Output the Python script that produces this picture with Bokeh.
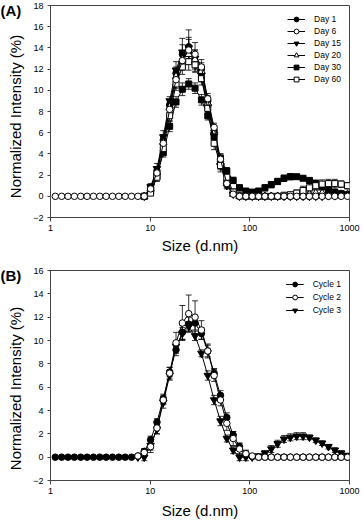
import math
from bokeh.plotting import figure
from bokeh.models import (Range1d, FixedTicker, PrintfTickFormatter, Legend, LegendItem,
                          Whisker, TeeHead, ColumnDataSource, Label)
from bokeh.layouts import column, row
from bokeh.embed import file_html
from bokeh.resources import INLINE

FONT = "Liberation Sans"

# ---------------- data ----------------
sizes = [1.117, 1.294, 1.499, 1.736, 2.010, 2.328, 2.696, 3.122, 3.615, 4.187,
         4.849, 5.615, 6.503, 7.531, 8.721, 10.10, 11.70, 13.54, 15.69, 18.17,
         21.04, 24.36, 28.21, 32.67, 37.84, 43.82, 50.75, 58.77, 68.06, 78.82,
         91.28, 105.7, 122.4, 141.8, 164.2, 190.1, 220.2, 255.0, 295.3, 342.0,
         396.1, 458.7, 531.2, 615.1, 712.4, 825.0, 955.4]

x_ticks = [1, 10, 100, 1000]
y_ticks_a = [-2, 0, 2, 4, 6, 8, 10, 12, 14, 16, 18]
y_ticks_b = [-2, 0, 2, 4, 6, 8, 10, 12, 14, 16]

x_title = "Size (d.nm)"
y_title = "Normalized Intensity (%)"

N = None
# Panel A
day1 = [N, N, N, N, N, N, N, N, N, N, N, N, N, N,
        0.0, 0.8, 2.4, 5.3, 8.6, 11.6, 13.4, 14.1, 12.6, 12.0, 9.0, 6.2, 3.3, 1.4, 0.3,
        0.0, 0.0, 0.0, 0.0, 0.0, 0.0, 0.0, 0.0, 0.0, 0.0, 0.0, 0.0, 0.0, 0.05, 0.05, 0.1, 0.1, 0.1]
day1_err = [0, 0, 0, 0, 0, 0, 0, 0, 0, 0, 0, 0, 0, 0,
            0, 0.3, 0.4, 0.5, 0.5, 0.6, 0.9, 1.6, 0.8, 0.6, 0.5, 0.4, 0.4, 0.3, 0.2,
            0, 0, 0, 0, 0, 0, 0, 0, 0, 0, 0, 0, 0, 0, 0, 0, 0, 0]
day6 = [0.0, 0.0, 0.0, 0.0, 0.0, 0.0, 0.0, 0.0, 0.0, 0.0, 0.0, 0.0, 0.0, 0.0,
        0.0, 0.7, 2.2, 5.0, 8.2, 11.0, 12.8, 13.8, 13.4, 12.2, 9.2, 6.5, 3.5, 1.2, 0.2,
        0.0, 0.0, 0.0, 0.0, 0.0, 0.0, 0.0, 0.0, 0.0, 0.0, 0.0, 0.0, 0.0, 0.0, 0.0, 0.0, 0.0, 0.0]
day6_err = [0, 0, 0, 0, 0, 0, 0, 0, 0, 0, 0, 0, 0, 0,
            0, 0.3, 0.4, 0.5, 0.6, 0.8, 0.9, 1.0, 1.1, 0.7, 0.5, 0.4, 0.5, 0.4, 0.2,
            0, 0, 0, 0, 0, 0, 0, 0, 0, 0, 0, 0, 0, 0, 0, 0, 0, 0]
day15 = [N, N, N, N, N, N, N, N, N, N, N, N, N, N,
         0.0, 0.9, 2.6, 5.6, 9.0, 11.9, 13.6, 14.0, 13.0, 11.4, 8.4, 5.8, 2.9, 1.0, 0.2,
         0.0, 0.0, 0.0, 0.0, 0.0, 0.0, 0.0, 0.0, 0.0, 0.0, 0.0, 0.0, 0.0, 0.0, 0.05, 0.05, 0.1, 0.1]
day15_err = [0, 0, 0, 0, 0, 0, 0, 0, 0, 0, 0, 0, 0, 0,
             0, 0.3, 0.5, 0.6, 0.4, 0.8, 1.3, 1.0, 0.8, 0.6, 0.4, 0.4, 0.4, 0.3, 0.2,
             0, 0, 0, 0, 0, 0, 0, 0, 0, 0, 0, 0, 0, 0, 0, 0, 0, 0]
day20 = [N, N, N, N, N, N, N, N, N, N, N, N, N, N,
         0.0, 0.7, 2.3, 5.1, 8.4, 11.3, 12.9, 13.4, 12.9, 11.8, 8.8, 6.0, 3.2, 1.2, 0.2,
         0.0, 0.0, 0.0, 0.0, 0.0, 0.0, 0.0, 0.0, 0.0, 0.0, 0.1, 0.2, 0.3, 0.3, 0.3, 0.3, 0.2, 0.2]
day20_err = [0, 0, 0, 0, 0, 0, 0, 0, 0, 0, 0, 0, 0, 0,
             0, 0.3, 0.4, 0.5, 0.5, 0.6, 0.7, 0.8, 0.9, 0.6, 0.5, 0.4, 0.4, 0.3, 0.2,
             0, 0, 0, 0, 0, 0, 0, 0, 0, 0, 0.1, 0.2, 0.3, 0.3, 0.3, 0.3, 0.2, 0.2]
day30 = [N, N, N, N, N, N, N, N, N, N, N, N, N, N,
         0.0, 0.5, 1.9, 4.1, 6.6, 8.9, 10.1, 10.6, 10.2, 9.1, 7.6, 5.6, 3.6, 2.4, 1.5,
         0.8, 0.5, 0.4, 0.5, 0.8, 1.1, 1.4, 1.7, 1.85, 1.85, 1.7, 1.5, 1.25, 0.9, 0.6, 0.4, 0.25, 0.15]
day30_err = [0, 0, 0, 0, 0, 0, 0, 0, 0, 0, 0, 0, 0, 0,
             0, 0.2, 0.3, 0.4, 0.5, 0.5, 0.6, 0.5, 0.5, 0.5, 0.4, 0.4, 0.4, 0.3, 0.3,
             0.3, 0.2, 0.2, 0.2, 0.3, 0.3, 0.3, 0.3, 0.3, 0.2, 0.2, 0.2, 0.2, 0.2, 0.2, 0.2, 0.1, 0.1]
day60 = [N, N, N, N, N, N, N, N, N, N, N, N, N, N,
         0.0, 0.3, 1.8, 4.5, 7.6, 10.6, 12.2, 12.7, 12.4, 11.1, 8.3, 5.0, 2.9, 1.8, 0.4,
         0.05, 0.0, 0.0, 0.0, 0.0, 0.0, 0.0, 0.1, 0.15, 0.3, 0.55, 0.8, 1.0, 1.15, 1.2, 1.2, 1.15, 1.0]
day60_err = [0, 0, 0, 0, 0, 0, 0, 0, 0, 0, 0, 0, 0, 0,
             0, 0.2, 0.4, 0.5, 0.5, 0.6, 0.7, 0.8, 0.7, 0.6, 0.5, 0.6, 0.6, 0.5, 0.3,
             0, 0, 0, 0, 0, 0, 0, 0.1, 0.2, 0.3, 0.4, 0.4, 0.4, 0.4, 0.4, 0.4, 0.3, 0.3]

# Panel B
cycle1 = [0.0, 0.0, 0.0, 0.0, 0.0, 0.0, 0.0, 0.0, 0.0, 0.0, 0.0, 0.0, 0.0, 0.1,
          0.5, 1.5, 3.0, 5.0, 7.3, 9.2, 10.7, 11.4, 11.5, 10.6, 9.1, 7.2, 5.3, 3.4, 1.9,
          0.9, 0.3, 0.05, 0.0, 0.0, 0.0, 0.0, 0.0, 0.0, 0.0, 0.0, 0.0, 0.0, 0.0, 0.0, 0.0, 0.0, 0.0]
cycle1_err = [0, 0, 0, 0, 0, 0, 0, 0, 0, 0, 0, 0, 0, 0.1,
              0.2, 0.3, 0.3, 0.4, 0.4, 0.5, 0.6, 0.6, 0.6, 0.5, 0.5, 0.4, 0.4, 0.4, 0.3,
              0.3, 0.2, 0, 0, 0, 0, 0, 0, 0, 0, 0, 0, 0, 0, 0, 0, 0, 0]
cycle2 = [N, N, N, N, N, N, N, N, N, N, N, N, N, 0.1,
          0.4, 0.9, 2.5, 4.9, 7.2, 9.8, 11.5, 12.3, 12.0, 10.9, 9.1, 7.0, 4.9, 2.9, 1.6,
          0.7, 0.3, 0.1, 0.0, 0.0, 0.0, 0.0, 0.0, 0.0, 0.0, 0.0, 0.0, 0.0, 0.0, 0.0, 0.0, 0.0, 0.0]
cycle2_err = [0, 0, 0, 0, 0, 0, 0, 0, 0, 0, 0, 0, 0, 0.1,
              0.3, 0.5, 0.5, 0.4, 0.5, 0.9, 1.5, 1.6, 1.4, 0.8, 0.6, 0.5, 0.5, 0.6, 0.6,
              0.5, 0.3, 0.1, 0, 0, 0, 0, 0, 0, 0, 0, 0, 0, 0, 0, 0, 0, 0]
cycle3 = [N, N, N, N, N, N, N, N, N, N, N, N, N, 0.0,
          0.0, 1.0, 2.4, 4.7, 7.0, 9.5, 10.6, 11.2, 10.4, 8.9, 7.0, 4.9, 3.1, 1.6, 0.6,
          0.0, 0.0, 0.0, 0.1, 0.35, 0.7, 1.15, 1.55, 1.7, 1.8, 1.8, 1.7, 1.45, 1.2, 0.9, 0.6, 0.35, 0.15]
cycle3_err = [0, 0, 0, 0, 0, 0, 0, 0, 0, 0, 0, 0, 0, 0.1,
              0.3, 0.4, 0.4, 0.5, 0.4, 0.4, 0.5, 0.4, 0.4, 0.3, 0.4, 0.4, 0.4, 0.3, 0.3,
              0.3, 0.3, 0.1, 0.1, 0.2, 0.3, 0.3, 0.3, 0.3, 0.3, 0.3, 0.2, 0.2, 0.2, 0.2, 0.2, 0.2, 0.1]

series_a = [  # label, values, errors, marker, filled, size
    ("Day 1", day1, day1_err, "circle", True, 6.5),
    ("Day 6", day6, day6_err, "circle", False, 6.5),
    ("Day 15", day15, day15_err, "inverted_triangle", True, 7.5),
    ("Day 20", day20, day20_err, "triangle", False, 7.5),
    ("Day 30", day30, day30_err, "square", True, 6),
    ("Day 60", day60, day60_err, "square", False, 6),
]
draw_order_a = ["Day 1", "Day 15", "Day 20", "Day 30", "Day 60", "Day 6"]

series_b = [
    ("Cycle 1", cycle1, cycle1_err, "circle", True, 6.5),
    ("Cycle 2", cycle2, cycle2_err, "circle", False, 6.5),
    ("Cycle 3", cycle3, cycle3_err, "inverted_triangle", True, 7.5),
]
draw_order_b = ["Cycle 3", "Cycle 1", "Cycle 2"]

AXIS_COLOR = "#444444"
SIDE_W = 26


def make_panel(series, order, y_lo, y_hi, y_ticks, frame_h, top_border, bottom,
               title_standoff, legend_spacing):
    p = figure(x_axis_type="log", x_range=Range1d(1, 1000), y_range=Range1d(y_lo, y_hi),
               frame_width=299, frame_height=frame_h,
               min_border_left=24, min_border_right=13, min_border_top=top_border,
               min_border_bottom=bottom, output_backend="svg", toolbar_location=None)
    p.background_fill_color = "white"
    p.border_fill_color = "white"
    p.outline_line_color = AXIS_COLOR
    p.outline_line_width = 1
    p.xgrid.visible = False
    p.ygrid.visible = False

    p.xaxis.ticker = FixedTicker(ticks=x_ticks, minor_ticks=[])
    p.xaxis.formatter = PrintfTickFormatter(format="%d")
    p.yaxis.ticker = FixedTicker(ticks=y_ticks, minor_ticks=[])
    for ax in (p.xaxis[0], p.yaxis[0]):
        ax.axis_line_color = AXIS_COLOR
        ax.major_tick_line_color = AXIS_COLOR
        ax.minor_tick_line_color = None
        ax.major_tick_in = 0
        ax.major_label_text_font = FONT
        ax.major_label_text_font_size = "9px"
        ax.major_label_text_color = "black"
        ax.axis_label_text_font = FONT
        ax.axis_label_text_font_size = "15px"
        ax.axis_label_text_font_style = "normal"
        ax.axis_label_text_color = "black"
    p.xaxis.major_tick_out = 4
    p.yaxis.major_tick_out = 3
    p.xaxis.major_label_standoff = 3
    p.yaxis.major_label_standoff = 4
    p.xaxis.axis_label = x_title
    p.xaxis.axis_label_standoff = title_standoff

    renderers = {}
    for name in order:
        label, vals, errs, marker, filled, size = next(s for s in series if s[0] == name)
        ys = [float("nan") if v is None else v for v in vals]
        src = ColumnDataSource(dict(x=sizes, y=ys))
        keep = [i for i in range(len(sizes)) if vals[i] is not None and errs[i] > 0]
        esrc = ColumnDataSource(dict(x=[sizes[i] for i in keep],
                                     upper=[vals[i] + errs[i] for i in keep],
                                     lower=[vals[i] - errs[i] for i in keep]))
        w = Whisker(base="x", upper="upper", lower="lower", source=esrc,
                    line_color="black", line_width=0.8,
                    upper_head=TeeHead(size=6, line_color="black", line_width=0.8),
                    lower_head=TeeHead(size=6, line_color="black", line_width=0.8))
        p.add_layout(w)
        lr = p.line("x", "y", source=src, line_color="black", line_width=1)
        sr = p.scatter("x", "y", source=src, marker=marker, size=size,
                       line_color="black", line_width=1,
                       fill_color="black" if filled else "white")
        renderers[name] = [lr, sr]

    items = [LegendItem(label=s[0], renderers=renderers[s[0]]) for s in series]
    legend = Legend(items=items, location="top_right")
    legend.border_line_color = None
    legend.background_fill_alpha = 0
    legend.label_text_font = FONT
    legend.label_text_font_size = "8.5px"
    legend.label_text_color = "black"
    legend.glyph_width = 18
    legend.glyph_height = 12
    legend.label_height = 12
    legend.spacing = legend_spacing
    legend.label_standoff = 9
    legend.padding = 3
    legend.margin = 8
    p.add_layout(legend)
    return p


def make_side(tag, frame_h, top_border, bottom, tag_center):
    total_h = top_border + frame_h + bottom
    s = figure(x_range=Range1d(0, SIDE_W), y_range=Range1d(0, total_h),
               frame_width=SIDE_W, frame_height=total_h, min_border=0,
               x_axis_location=None, y_axis_location=None,
               output_backend="svg", toolbar_location=None)
    s.grid.visible = False
    s.outline_line_color = None
    s.background_fill_color = "white"
    s.border_fill_color = "white"
    s.add_layout(Label(x=0, y=total_h - tag_center, text=tag, text_font=FONT,
                       text_font_size="15px", text_font_style="bold",
                       text_baseline="middle", text_align="left", text_color="black"))
    s.add_layout(Label(x=15, y=bottom + frame_h / 2, text=y_title, angle=math.pi / 2,
                       text_font=FONT, text_font_size="15px", text_align="center",
                       text_baseline="middle", text_color="black"))
    return s


pa = make_panel(series_a, draw_order_a, -2, 18, y_ticks_a, 212, 5, 40, 3, 0)
pb = make_panel(series_b, draw_order_b, -2, 16, y_ticks_b, 210, 13, 41, 5, 1)
sa = make_side("(A)", 212, 5, 40, 5)
sb = make_side("(B)", 210, 13, 41, 5)

layout = column(row(sa, pa, spacing=0), row(sb, pb, spacing=0), spacing=0)
open("out.html", "w").write(file_html(layout, INLINE))
